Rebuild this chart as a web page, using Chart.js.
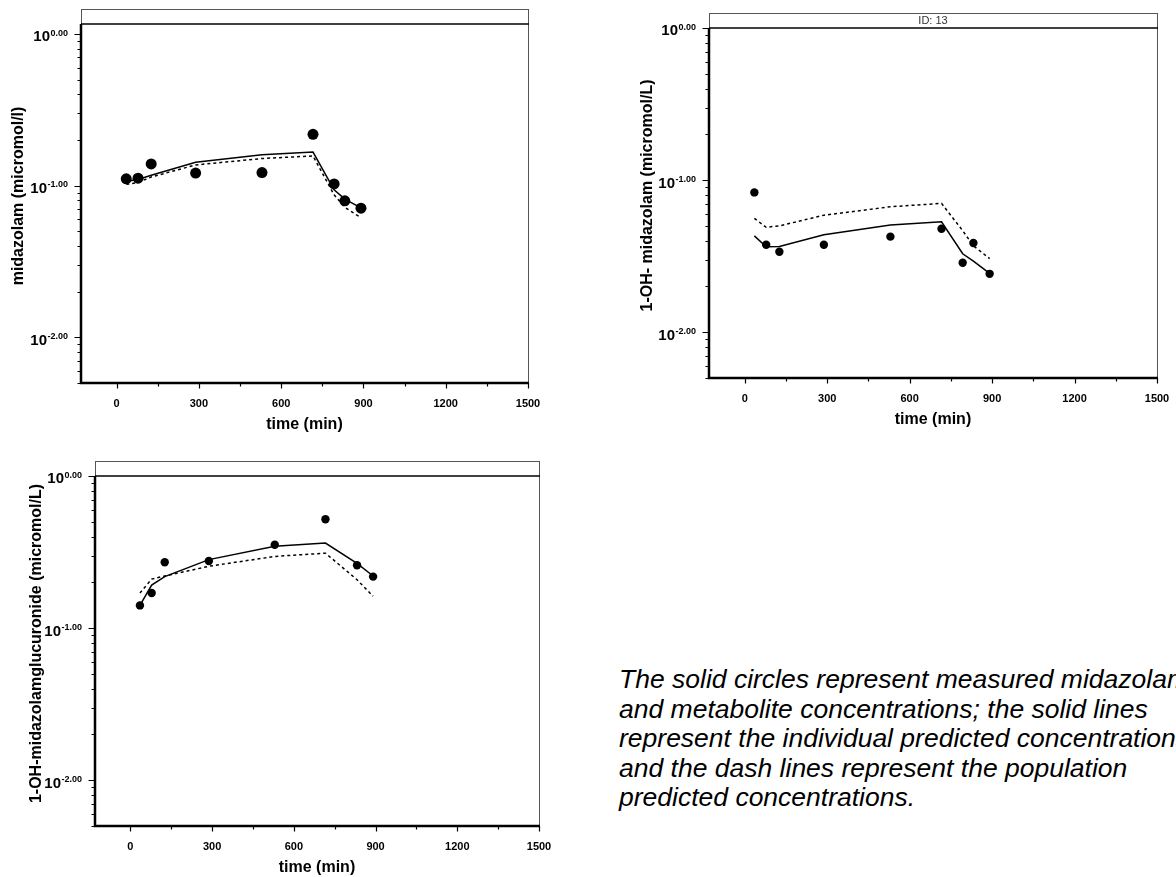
<!DOCTYPE html>
<html>
<head>
<meta charset="utf-8">
<script src="https://cdn.jsdelivr.net/npm/chart.js@4.4.1/dist/chart.umd.min.js"></script>
<style>
  body { margin: 0; width: 1176px; height: 877px; overflow: hidden; background: #fff; position: relative; }
  canvas { position: absolute; }
  #note {
    position: absolute; left: 619px; top: 665px;
    font: italic 26.5px/29.5px Arial, "Liberation Sans", sans-serif;
    white-space: nowrap; color: #000;
  }
</style>
</head>
<body>
<canvas id="mdz" width="542" height="435" style="left:0;top:0"></canvas>
<canvas id="oh" width="543" height="430" style="left:628px;top:0"></canvas>
<canvas id="gluc" width="539" height="428" style="left:14px;top:450px"></canvas>
<div id="note">The solid circles represent measured midazolam<br>and metabolite concentrations; the solid lines<br>represent the individual predicted concentrations<br>and the dash lines represent the population<br>predicted concentrations.</div>
<script>
// axis ticks
const xTicks = [0, 300, 600, 900, 1200, 1500];
const xMinor = [150, 450, 750, 1050, 1350];
const yDecades = [1, 0.1, 0.01];
const yExponents = ['0.00', '-1.00', '-2.00'];

// midazolam
const timesMdz = [35, 78, 126, 288, 530, 716, 793, 832, 891];
const obsMdz = [0.111, 0.112, 0.139, 0.121, 0.122, 0.218, 0.1026, 0.0795, 0.0711];
const ipredMdz = [0.107, 0.110, 0.117, 0.1425, 0.160, 0.1665, 0.094, 0.0815, 0.0713];
const predMdz = [0.102, 0.105, 0.114, 0.137, 0.151, 0.157, 0.087, 0.072, 0.0615];

// 1-OH-midazolam
const timesOh = [35, 78, 126, 288, 530, 716, 793, 832, 891];
const obsOh = [0.083, 0.0376, 0.0338, 0.0376, 0.0425, 0.0479, 0.0286, 0.0386, 0.0242];
const ipredOh = [0.043, 0.0365, 0.0366, 0.0437, 0.0507, 0.0532, 0.0328, 0.0293, 0.0244];
const predOh = [0.056, 0.049, 0.050, 0.0588, 0.0668, 0.0703, 0.0465, 0.037, 0.0305];

// 1-OH-midazolam glucuronide
const timesGluc = [35, 78, 126, 288, 530, 716, 832, 891];
const obsGluc = [0.141, 0.170, 0.271, 0.276, 0.353, 0.520, 0.259, 0.218];
const ipredGluc = [0.141, 0.192, 0.218, 0.282, 0.345, 0.362, 0.266, 0.220];
const predGluc = [0.170, 0.210, 0.220, 0.255, 0.296, 0.311, 0.208, 0.162];

const FONT = 'Arial, "Liberation Sans", sans-serif';
Chart.defaults.font.family = FONT;
Chart.defaults.color = '#000';

const pairs = (t, v) => t.map((x, i) => ({ x: x, y: v[i] }));

// box, strip, tick marks, log labels and y title
const panelFrame = {
  id: 'panelFrame',
  afterDraw(chart, args, o) {
    const { ctx, chartArea: a, scales: { x, y } } = chart;
    const stripTop = a.top - 15;
    ctx.save();

    ctx.strokeStyle = '#555';
    ctx.lineWidth = 1;
    ctx.beginPath();
    ctx.moveTo(a.left, stripTop + 0.5); ctx.lineTo(a.right + 0.5, stripTop + 0.5);
    ctx.moveTo(a.right + 0.5, stripTop); ctx.lineTo(a.right + 0.5, a.bottom);
    ctx.moveTo(a.left + 0.5, stripTop); ctx.lineTo(a.left + 0.5, a.top);
    ctx.stroke();

    if (o.label) {
      ctx.fillStyle = '#333';
      ctx.font = '11px ' + FONT;
      ctx.textAlign = 'center';
      ctx.textBaseline = 'middle';
      ctx.fillText(o.label, (a.left + a.right) / 2, (stripTop + a.top) / 2 + 0.5);
    }

    ctx.strokeStyle = '#000';
    ctx.lineWidth = 1.5;
    ctx.beginPath();
    ctx.moveTo(a.left, a.top); ctx.lineTo(a.right + 1, a.top);
    ctx.stroke();

    ctx.lineWidth = 2.5;
    ctx.beginPath();
    ctx.moveTo(a.left, a.top); ctx.lineTo(a.left, a.bottom + 1.25);
    ctx.moveTo(a.left - 1.25, a.bottom); ctx.lineTo(a.right + 1, a.bottom);
    ctx.stroke();

    // x tick marks
    ctx.lineWidth = 1.2;
    ctx.beginPath();
    xTicks.forEach(v => {
      const px = Math.round(x.getPixelForValue(v)) + 0.5;
      ctx.moveTo(px, a.bottom); ctx.lineTo(px, a.bottom + 5.5);
    });
    xMinor.forEach(v => {
      const px = Math.round(x.getPixelForValue(v)) + 0.5;
      ctx.moveTo(px, a.bottom); ctx.lineTo(px, a.bottom + 3.5);
    });
    ctx.stroke();

    // y tick marks, decades and 2..9 minors
    ctx.beginPath();
    [0.001, 0.01, 0.1, 1].forEach(d => {
      for (let k = 1; k <= 9; k++) {
        const v = k * d;
        if (v < y.min || v > y.max) continue;
        const py = Math.round(y.getPixelForValue(v)) + 0.5;
        ctx.moveTo(a.left, py); ctx.lineTo(a.left - (k === 1 ? 6.5 : 3.5), py);
      }
    });
    ctx.stroke();

    // 10^n labels
    ctx.fillStyle = '#000';
    ctx.textAlign = 'right';
    ctx.textBaseline = 'alphabetic';
    const endX = a.left - 13;
    yDecades.forEach((v, i) => {
      const py = y.getPixelForValue(v);
      ctx.font = 'bold 9px ' + FONT;
      const w = ctx.measureText(yExponents[i]).width;
      ctx.fillText(yExponents[i], endX, py + 1.5);
      ctx.font = 'bold 15px ' + FONT;
      ctx.fillText('10', endX - w - 0.5, py + 7.4);
    });

    // y title
    ctx.translate(a.left - o.titleGap, (stripTop + a.bottom) / 2);
    ctx.rotate(-Math.PI / 2);
    ctx.font = 'bold 16px ' + FONT;
    ctx.textAlign = 'center';
    ctx.textBaseline = 'middle';
    ctx.fillText(o.yTitle, 0, 0);
    ctx.restore();
  }
};

function makePanel(id, p) {
  return new Chart(document.getElementById(id), {
    type: 'scatter',
    data: {
      datasets: [
        {
          data: pairs(p.times, p.pred), showLine: true, pointRadius: 0,
          borderColor: '#000', borderWidth: 1.5, borderDash: [3, 3]
        },
        {
          data: pairs(p.times, p.ipred), showLine: true, pointRadius: 0,
          borderColor: '#000', borderWidth: 1.5
        },
        {
          data: pairs(p.times, p.obs), showLine: false, pointRadius: p.radius,
          pointBackgroundColor: '#000', pointBorderColor: '#000', pointBorderWidth: 0
        }
      ]
    },
    options: {
      responsive: false,
      animation: false,
      layout: { padding: { top: p.padTop, right: 14, left: 0, bottom: 0 } },
      plugins: {
        legend: { display: false },
        tooltip: { enabled: false },
        panelFrame: { label: p.label, yTitle: p.yTitle, titleGap: p.titleGap }
      },
      scales: {
        x: {
          type: 'linear', min: -130, max: 1500,
          afterBuildTicks: s => { s.ticks = xTicks.map(v => ({ value: v })); },
          afterFit: s => { s.height = 52; s.paddingLeft = 0; s.paddingRight = 0; },
          grid: { display: false, drawTicks: false },
          border: { display: false },
          ticks: {
            font: { size: 11, weight: 'bold' }, color: '#000', padding: 14,
            maxRotation: 0, autoSkip: false, callback: v => String(v)
          },
          title: {
            display: true, text: 'time (min)', color: '#000',
            font: { size: 16, weight: 'bold' }, padding: { top: 0, bottom: 1 }
          }
        },
        y: {
          type: 'logarithmic', min: p.yMin, max: p.yMax,
          afterFit: s => { s.width = 81; },
          ticks: { display: false },
          grid: { display: false },
          border: { display: false }
        }
      }
    },
    plugins: [panelFrame]
  });
}

makePanel('mdz', {
  times: timesMdz, obs: obsMdz, ipred: ipredMdz, pred: predMdz,
  yMin: 0.005, yMax: 1.164, padTop: 24, radius: 5.5,
  yTitle: 'midazolam (micromol/l)', titleGap: 62, label: ''
});

makePanel('oh', {
  times: timesOh, obs: obsOh, ipred: ipredOh, pred: predOh,
  yMin: 0.005, yMax: 1, padTop: 28, radius: 4.2,
  yTitle: '1-OH- midazolam (micromol/L)', titleGap: 61, label: 'ID: 13'
});

makePanel('gluc', {
  times: timesGluc, obs: obsGluc, ipred: ipredGluc, pred: predGluc,
  yMin: 0.005, yMax: 1, padTop: 26, radius: 4.2,
  yTitle: '1-OH-midazolamglucuronide (micromol/L)', titleGap: 58, label: ''
});
</script>
</body>
</html>
